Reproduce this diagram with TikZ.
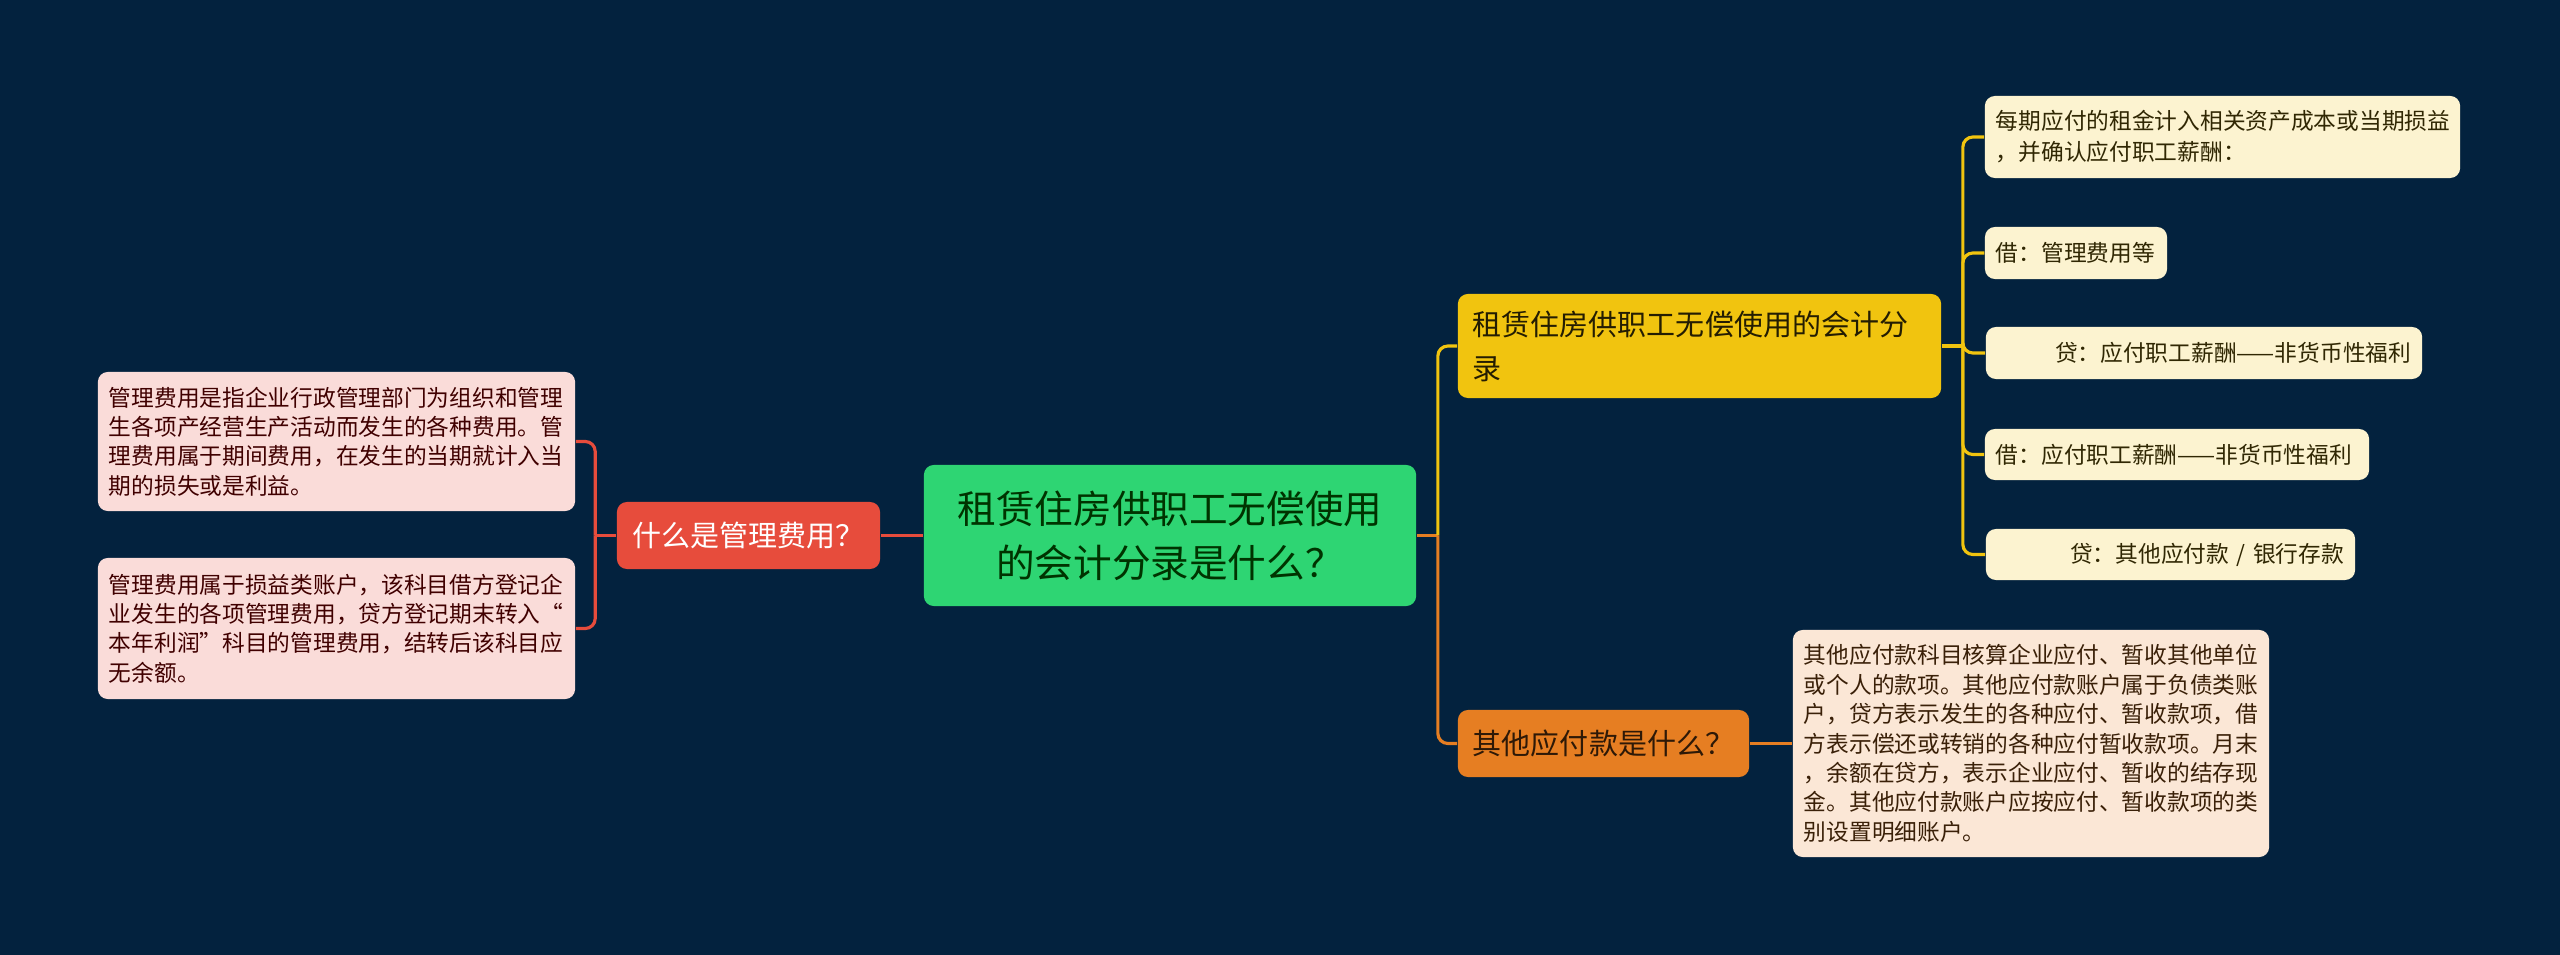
\documentclass[tikz,border=0pt]{standalone}
\usepackage{fontspec}
\setmainfont{Noto Sans CJK SC}
\usepackage{xcolor}
\definecolor{fondo}{RGB}{3,34,62}
\definecolor{raizverde}{RGB}{46,213,115}
\definecolor{rojo}{RGB}{231,76,60}
\definecolor{amarillo}{RGB}{241,196,15}
\definecolor{naranja}{RGB}{230,126,34}
\definecolor{crema}{RGB}{252,243,208}
\definecolor{rosa}{RGB}{250,220,217}
\definecolor{melocoton}{RGB}{251,231,214}
\usetikzlibrary{positioning}

\begin{document}
\begin{tikzpicture}[x=0.01cm, y=-0.01cm,
            root/.style={rectangle, rounded corners=0.1cm, fill=raizverde, text=black!80!green, inner xsep=0.1cm, inner ysep=0pt, align=center, font=\fontsize{0.386cm}{0.54cm}\selectfont},
            topic/.style={rectangle, rounded corners=0.1cm, inner xsep=0.15cm, inner ysep=0pt, font=\fontsize{0.29cm}{0.44cm}\selectfont},
            leaf/.style={rectangle, rounded corners=0.1cm, inner xsep=0.11cm, inner ysep=0pt, align=left, font=\fontsize{0.227cm}{0.294cm}\selectfont},
            link/.style={line width=0.9pt, rounded corners=0.1cm}
        ]
            \fill[fondo] (0,0) rectangle (2560,955);
            \useasboundingbox (0,0) rectangle (2560,955);

            % Nodos
            \node (raiz) [root, minimum width=4.92cm, minimum height=1.41cm] at (1170,535.5) {租赁住房供职工无偿使用\\的会计分录是什么？};
            \node (gestion) [topic, fill=rojo, text=white, align=center, minimum width=2.63cm, minimum height=0.67cm] at (748.5,535.5) {什么是管理费用？};
            \node (asiento) [topic, fill=amarillo, text=black!85!amarillo, align=left, text width=4.53cm, minimum height=1.04cm] at (1699.5,346) {租赁住房供职工无偿使用的会计分\\录};
            \node (otras) [topic, fill=naranja, text=black!80!naranja, align=left, text width=2.61cm, minimum height=0.67cm] at (1603.5,743.5) {其他应付款是什么？};

            % Izquierda
            \node (def1) [leaf, fill=rosa, text=black!75!red, text width=4.55cm, minimum height=1.39cm] at (336.5,441.5) {管理费用是指企业行政管理部门为组织和管理\\生各项产经营生产活动而发生的各种费用。管\\理费用属于期间费用，在发生的当期就计入当\\期的损失或是利益。};
            \node (def2) [leaf, fill=rosa, text=black!75!red, text width=4.55cm, minimum height=1.41cm] at (336.5,628.5) {管理费用属于损益类账户，该科目借方登记企\\业发生的各项管理费用，贷方登记期末转入“\\本年利润”科目的管理费用，结转后该科目应\\无余额。};

            % Derecha
            \node (paso1) [leaf, fill=crema, text=black!80!amarillo, text width=4.53cm, minimum height=0.82cm, font=\fontsize{0.227cm}{0.31cm}\selectfont] at (2222.5,137) {每期应付的租金计入相关资产成本或当期损益\\，并确认应付职工薪酬：};
            \node (paso2) [leaf, fill=crema, text=black!80!amarillo, text width=1.6cm, minimum height=0.52cm] at (2076,253) {借：管理费用等};
            \node (paso3) [leaf, fill=crema, text=black!80!amarillo, align=right, text width=4.14cm, minimum height=0.52cm] at (2204,353) {贷：应付职工薪酬——非货币性福利};
            \node (paso4) [leaf, fill=crema, text=black!80!amarillo, text width=3.62cm, minimum height=0.51cm] at (2177,454.5) {借：应付职工薪酬——非货币性福利};
            \node (paso5) [leaf, fill=crema, text=black!80!amarillo, align=right, text width=3.47cm, minimum height=0.51cm] at (2170.5,554.5) {贷：其他应付款 / 银行存款};
            \node (def3) [leaf, fill=melocoton, text=black!75!naranja, text width=4.54cm, minimum height=2.27cm] at (2031,743.5) {其他应付款科目核算企业应付、暂收其他单位\\或个人的款项。其他应付款账户属于负债类账\\户，贷方表示发生的各种应付、暂收款项，借\\方表示偿还或转销的各种应付暂收款项。月末\\，余额在贷方，表示企业应付、暂收的结存现\\金。其他应付款账户应按应付、暂收款项的类\\别设置明细账户。};

            % Conexiones
            \coordinate (nudoR) at ([shift={(21,0)}]raiz.east);
            \coordinate (nudoI) at ([shift={(-21,0)}]gestion.west);
            \coordinate (nudoA) at ([shift={(21,0)}]asiento.east);

            \draw [link, draw=rojo] (raiz.west) -- (gestion.east);
            \draw [link, draw=rojo] (gestion.west) -- (nudoI);
            \draw [link, draw=rojo] (nudoI) |- (def1.east);
            \draw [link, draw=rojo] (nudoI) |- (def2.east);

            \draw [link, draw=naranja] (raiz.east) -- (nudoR);
            \draw [link, draw=amarillo] (nudoR) |- (asiento.west);
            \draw [link, draw=naranja] (nudoR) |- (otras.west);
            \draw [link, draw=naranja] (otras.east) -- (def3.west);

            \draw [link, draw=amarillo] (asiento.east) -- (nudoA);
            \foreach \p in {paso1,paso2,paso3,paso4,paso5}
                \draw [link, draw=amarillo] (nudoA) |- (\p.west);
        \end{tikzpicture}
\end{document}
